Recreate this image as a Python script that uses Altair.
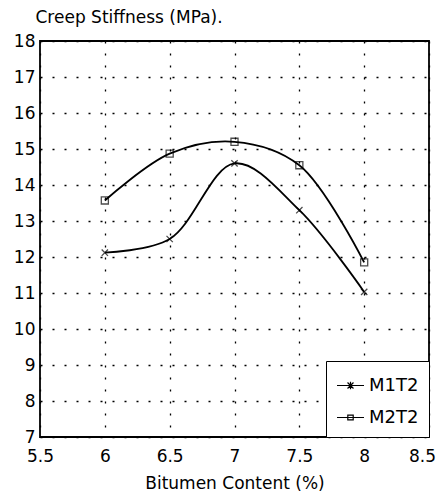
import altair as alt
import pandas as pd

bitumen = [6, 6.5, 7, 7.5, 8]
m1t2 = [12.12, 12.5, 14.6, 13.3, 11.03]
m2t2 = [13.57, 14.87, 15.2, 14.55, 11.85]
series_names = ["M1T2", "M2T2"]
x_ticks = [5.5, 6, 6.5, 7, 7.5, 8, 8.5]
y_ticks = [7, 8, 9, 10, 11, 12, 13, 14, 15, 16, 17, 18]

rows = []
for name, vals in zip(series_names, [m1t2, m2t2]):
    for b, v in zip(bitumen, vals):
        rows.append({"bitumen": b, "stiffness": v, "series": name})
df = pd.DataFrame(rows)

FONT = "DejaVu Sans"
X_PATH = "M-1,-1L1,1M-1,1L1,-1"
SQ_PATH = "M-1,-1H1V1H-1Z"
LEG_X = "M-1,0H1M-0.22,-0.22L0.22,0.22M-0.22,0.22L0.22,-0.22M0,-0.28V0.28"
LEG_SQ = "M-1,0H1M-0.2,-0.18H0.2V0.18H-0.2Z"

grid_kw = dict(grid=True, gridDash=[2, 10], gridColor="black", gridWidth=1.3,
               gridOpacity=1, domain=False, ticks=False, labelOverlap=False)

xenc = alt.X("bitumen:Q",
             scale=alt.Scale(domain=[5.5, 8.5], nice=False, zero=False),
             axis=alt.Axis(values=x_ticks, tickCount=7, title="Bitumen Content (%)", format="~g",
                           labelFlush=False, labelPadding=11,
                           labelOffset={"expr": "datum.value == 8.5 ? -7 : 0"},
                           titleY=51, titleBaseline="alphabetic", **grid_kw))
yenc = alt.Y("stiffness:Q",
             scale=alt.Scale(domain=[7, 18], nice=False, zero=False),
             axis=alt.Axis(values=y_ticks, tickCount=12, title="Creep Stiffness (MPa).",
                           titleAngle=0, titleAlign="left", titleX=-5, titleY=-19,
                           titleBaseline="alphabetic", labelPadding=5, labelFlush=False,
                           **grid_kw))

base = alt.Chart(df)

lines = base.mark_line(interpolate="catmull-rom", color="black", strokeWidth=1.8).encode(
    x=xenc, y=yenc, detail="series:N")

pts1 = base.transform_filter(alt.datum.series == "M1T2").mark_point(
    shape=X_PATH, size=40, color="black", strokeWidth=1.3, filled=False).encode(x=xenc, y=yenc)
pts2 = base.transform_filter(alt.datum.series == "M2T2").mark_point(
    shape=SQ_PATH, size=50, color="black", strokeWidth=1.3, filled=False).encode(x=xenc, y=yenc)

leg = base.mark_point(opacity=0, color="black", filled=False).encode(
    x=xenc, y=yenc,
    shape=alt.Shape("series:N",
                    scale=alt.Scale(domain=series_names, range=[LEG_X, LEG_SQ]),
                    legend=alt.Legend(title=None, orient="bottom-right", offset=0,
                                      fillColor="white", strokeColor="black",
                                      padding=10, rowPadding=8,
                                      symbolSize=729, symbolOpacity=1,
                                      symbolStrokeColor="black", symbolFillColor="transparent",
                                      symbolStrokeWidth=1.2, labelFontSize=18,
                                      labelFont=FONT, labelColor="black", labelOffset=4)))

chart = alt.layer(lines, pts1, pts2, leg).properties(
    width=389, height=396,
    padding={"left": 32, "top": 33, "right": 8, "bottom": 55},
    autosize=alt.AutoSizeParams(type="none"),
    background="white",
).configure_view(stroke="black", strokeWidth=1.8).configure_axis(
    labelFont=FONT, titleFont=FONT, labelFontSize=17, titleFontSize=17,
    labelColor="black", titleColor="black", titleFontWeight="normal"
)

chart.save("out.html", embed_options={"renderer": "svg", "actions": False})
